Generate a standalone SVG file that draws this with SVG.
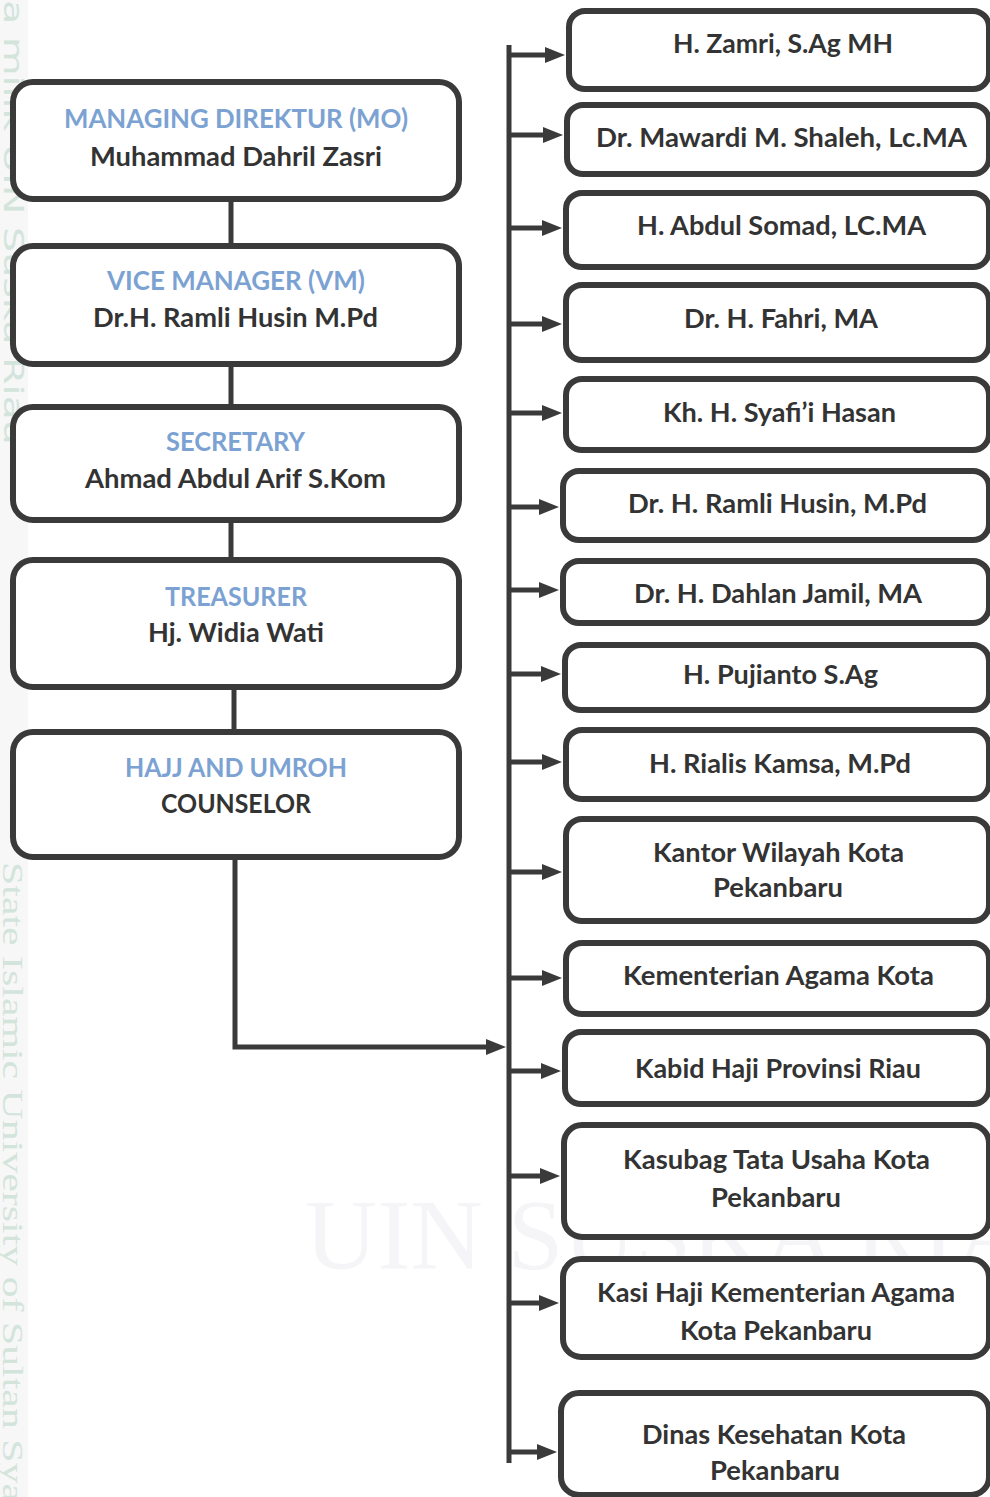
<svg xmlns="http://www.w3.org/2000/svg" width="990" height="1497" viewBox="0 0 990 1497">
  <style>
    .box{fill:#ffffff;stroke:#3a3a3a;stroke-width:6}
    .ttl{font-family:Lato,"Open Sans","Liberation Sans",sans-serif;font-weight:bold;font-size:26px;fill:#7ba2d2;text-anchor:middle}
    .nm{font-family:Lato,"Open Sans","Liberation Sans",sans-serif;font-weight:bold;font-size:26px;fill:#333333;text-anchor:middle}
    .ln{fill:none;stroke:#3a3a3a;stroke-width:5}
    .wm1{font-family:"DejaVu Sans",sans-serif;font-size:26px;fill:#d3e4dc}
    .wm2{font-family:"Liberation Serif",serif;font-size:30px;fill:#d3e4dc}
    .wm3{font-family:"Liberation Serif",serif;font-size:100px;fill:#f5f5f8}
  </style>
  <defs>
    <marker id="arr" markerUnits="userSpaceOnUse" markerWidth="20" markerHeight="16" viewBox="0 0 20 16" refX="2" refY="8" orient="auto">
      <path d="M0,0 L20,8 L0,16 z" fill="#3a3a3a"/>
    </marker>
  </defs>

  <g id="background">
    <rect x="0" y="0" width="990" height="1497" fill="#ffffff"/>
    <rect x="0" y="0" width="28" height="1497" fill="#f6f7f6"/>
    <text class="wm1" transform="translate(4,0) rotate(90)" x="0" y="0" textLength="445" lengthAdjust="spacingAndGlyphs">a milik UIN Suska Riau</text>
    <text class="wm2" transform="translate(3,862) rotate(90)" x="0" y="0" textLength="640" lengthAdjust="spacingAndGlyphs">State Islamic University of Sultan Sya</text>
    <text class="wm3" x="305" y="1268">UIN SUSKA RIAU</text>
  </g>

  <g id="connectors">
    <line class="ln" x1="231" y1="199" x2="231" y2="246"/>
    <line class="ln" x1="231" y1="364" x2="231" y2="407"/>
    <line class="ln" x1="231" y1="520" x2="231" y2="560"/>
    <line class="ln" x1="234" y1="687" x2="234" y2="732"/>
    <path class="ln" d="M235,857 V1047 H488" marker-end="url(#arr)"/>
    <line class="ln" x1="509" y1="45" x2="509" y2="1463"/>
    <line class="ln" x1="509" y1="55" x2="547" y2="55" marker-end="url(#arr)"/>
    <line class="ln" x1="509" y1="135" x2="545" y2="135" marker-end="url(#arr)"/>
    <line class="ln" x1="509" y1="228" x2="544" y2="228" marker-end="url(#arr)"/>
    <line class="ln" x1="509" y1="324" x2="544" y2="324" marker-end="url(#arr)"/>
    <line class="ln" x1="509" y1="413" x2="544" y2="413" marker-end="url(#arr)"/>
    <line class="ln" x1="509" y1="507" x2="541" y2="507" marker-end="url(#arr)"/>
    <line class="ln" x1="509" y1="590" x2="541" y2="590" marker-end="url(#arr)"/>
    <line class="ln" x1="509" y1="674" x2="543" y2="674" marker-end="url(#arr)"/>
    <line class="ln" x1="509" y1="762" x2="544" y2="762" marker-end="url(#arr)"/>
    <line class="ln" x1="509" y1="872" x2="544" y2="872" marker-end="url(#arr)"/>
    <line class="ln" x1="509" y1="978" x2="544" y2="978" marker-end="url(#arr)"/>
    <line class="ln" x1="509" y1="1071" x2="543" y2="1071" marker-end="url(#arr)"/>
    <line class="ln" x1="509" y1="1176" x2="542" y2="1176" marker-end="url(#arr)"/>
    <line class="ln" x1="509" y1="1303" x2="541" y2="1303" marker-end="url(#arr)"/>
    <line class="ln" x1="509" y1="1452" x2="539" y2="1452" marker-end="url(#arr)"/>
  </g>

  <g id="managing-director">
    <rect class="box" x="13" y="82" width="446" height="117" rx="20"/>
    <text class="ttl" x="236" y="128" textLength="344" lengthAdjust="spacingAndGlyphs">MANAGING DIREKTUR (MO)</text>
    <text class="nm" x="236" y="166" textLength="292" lengthAdjust="spacingAndGlyphs">Muhammad Dahril Zasri</text>
  </g>
  <g id="vice-manager">
    <rect class="box" x="13" y="246" width="446" height="118" rx="20"/>
    <text class="ttl" x="236" y="290" textLength="258" lengthAdjust="spacingAndGlyphs">VICE MANAGER (VM)</text>
    <text class="nm" x="235.5" y="327" textLength="285" lengthAdjust="spacingAndGlyphs">Dr.H. Ramli Husin M.Pd</text>
  </g>
  <g id="secretary">
    <rect class="box" x="13" y="407" width="446" height="113" rx="20"/>
    <text class="ttl" x="235.5" y="451" textLength="139" lengthAdjust="spacingAndGlyphs">SECRETARY</text>
    <text class="nm" x="235.5" y="488" textLength="301" lengthAdjust="spacingAndGlyphs">Ahmad Abdul Arif S.Kom</text>
  </g>
  <g id="treasurer">
    <rect class="box" x="13" y="560" width="446" height="127" rx="20"/>
    <text class="ttl" x="236" y="606" textLength="142" lengthAdjust="spacingAndGlyphs">TREASURER</text>
    <text class="nm" x="236" y="642" textLength="176" lengthAdjust="spacingAndGlyphs">Hj. Widia Wati</text>
  </g>
  <g id="hajj-umroh-counselor">
    <rect class="box" x="13" y="732" width="446" height="125" rx="20"/>
    <text class="ttl" x="236" y="777" textLength="222" lengthAdjust="spacingAndGlyphs">HAJJ AND UMROH</text>
    <text class="nm" x="236" y="813" textLength="150" lengthAdjust="spacingAndGlyphs">COUNSELOR</text>
  </g>

  <g id="r01">
    <rect class="box" x="569" y="11" width="420" height="78" rx="16"/>
    <text class="nm" x="783" y="53" textLength="220" lengthAdjust="spacingAndGlyphs">H. Zamri, S.Ag MH</text>
  </g>
  <g id="r02">
    <rect class="box" x="567" y="105" width="422" height="69" rx="16"/>
    <text class="nm" x="781.5" y="147" textLength="371" lengthAdjust="spacingAndGlyphs">Dr. Mawardi M. Shaleh, Lc.MA</text>
  </g>
  <g id="r03">
    <rect class="box" x="566" y="193" width="423" height="74" rx="16"/>
    <text class="nm" x="781.5" y="235" textLength="289" lengthAdjust="spacingAndGlyphs">H. Abdul Somad, LC.MA</text>
  </g>
  <g id="r04">
    <rect class="box" x="566" y="285" width="423" height="75" rx="16"/>
    <text class="nm" x="781" y="328" textLength="194" lengthAdjust="spacingAndGlyphs">Dr. H. Fahri, MA</text>
  </g>
  <g id="r05">
    <rect class="box" x="566" y="379" width="423" height="71" rx="16"/>
    <text class="nm" x="779.5" y="422" textLength="233" lengthAdjust="spacingAndGlyphs">Kh. H. Syafi’i Hasan</text>
  </g>
  <g id="r06">
    <rect class="box" x="563" y="471" width="426" height="69" rx="16"/>
    <text class="nm" x="777.5" y="513" textLength="299" lengthAdjust="spacingAndGlyphs">Dr. H. Ramli Husin, M.Pd</text>
  </g>
  <g id="r07">
    <rect class="box" x="563" y="561" width="426" height="62" rx="16"/>
    <text class="nm" x="778" y="603" textLength="288" lengthAdjust="spacingAndGlyphs">Dr. H. Dahlan Jamil, MA</text>
  </g>
  <g id="r08">
    <rect class="box" x="565" y="645" width="424" height="65" rx="16"/>
    <text class="nm" x="780.5" y="684" textLength="195" lengthAdjust="spacingAndGlyphs">H. Pujianto S.Ag</text>
  </g>
  <g id="r09">
    <rect class="box" x="566" y="730" width="423" height="69" rx="16"/>
    <text class="nm" x="780" y="773" textLength="262" lengthAdjust="spacingAndGlyphs">H. Rialis Kamsa, M.Pd</text>
  </g>
  <g id="r10">
    <rect class="box" x="566" y="819" width="423" height="102" rx="16"/>
    <text class="nm" x="778.5" y="862" textLength="251" lengthAdjust="spacingAndGlyphs">Kantor Wilayah Kota</text>
    <text class="nm" x="778" y="897" textLength="130" lengthAdjust="spacingAndGlyphs">Pekanbaru</text>
  </g>
  <g id="r11">
    <rect class="box" x="566" y="943" width="423" height="71" rx="16"/>
    <text class="nm" x="778.5" y="985" textLength="311" lengthAdjust="spacingAndGlyphs">Kementerian Agama Kota</text>
  </g>
  <g id="r12">
    <rect class="box" x="565" y="1032" width="424" height="72" rx="16"/>
    <text class="nm" x="778" y="1078" textLength="286" lengthAdjust="spacingAndGlyphs">Kabid Haji Provinsi Riau</text>
  </g>
  <g id="r13">
    <rect class="box" x="564" y="1125" width="425" height="112" rx="18"/>
    <text class="nm" x="776.5" y="1169" textLength="307" lengthAdjust="spacingAndGlyphs">Kasubag Tata Usaha Kota</text>
    <text class="nm" x="776" y="1207" textLength="130" lengthAdjust="spacingAndGlyphs">Pekanbaru</text>
  </g>
  <g id="r14">
    <rect class="box" x="563" y="1259" width="426" height="98" rx="18"/>
    <text class="nm" x="776" y="1302" textLength="358" lengthAdjust="spacingAndGlyphs">Kasi Haji Kementerian Agama</text>
    <text class="nm" x="776" y="1340" textLength="192" lengthAdjust="spacingAndGlyphs">Kota Pekanbaru</text>
  </g>
  <g id="r15">
    <rect class="box" x="561" y="1393" width="428" height="102" rx="18"/>
    <text class="nm" x="774" y="1444" textLength="264" lengthAdjust="spacingAndGlyphs">Dinas Kesehatan Kota</text>
    <text class="nm" x="775" y="1480" textLength="130" lengthAdjust="spacingAndGlyphs">Pekanbaru</text>
  </g>
</svg>
